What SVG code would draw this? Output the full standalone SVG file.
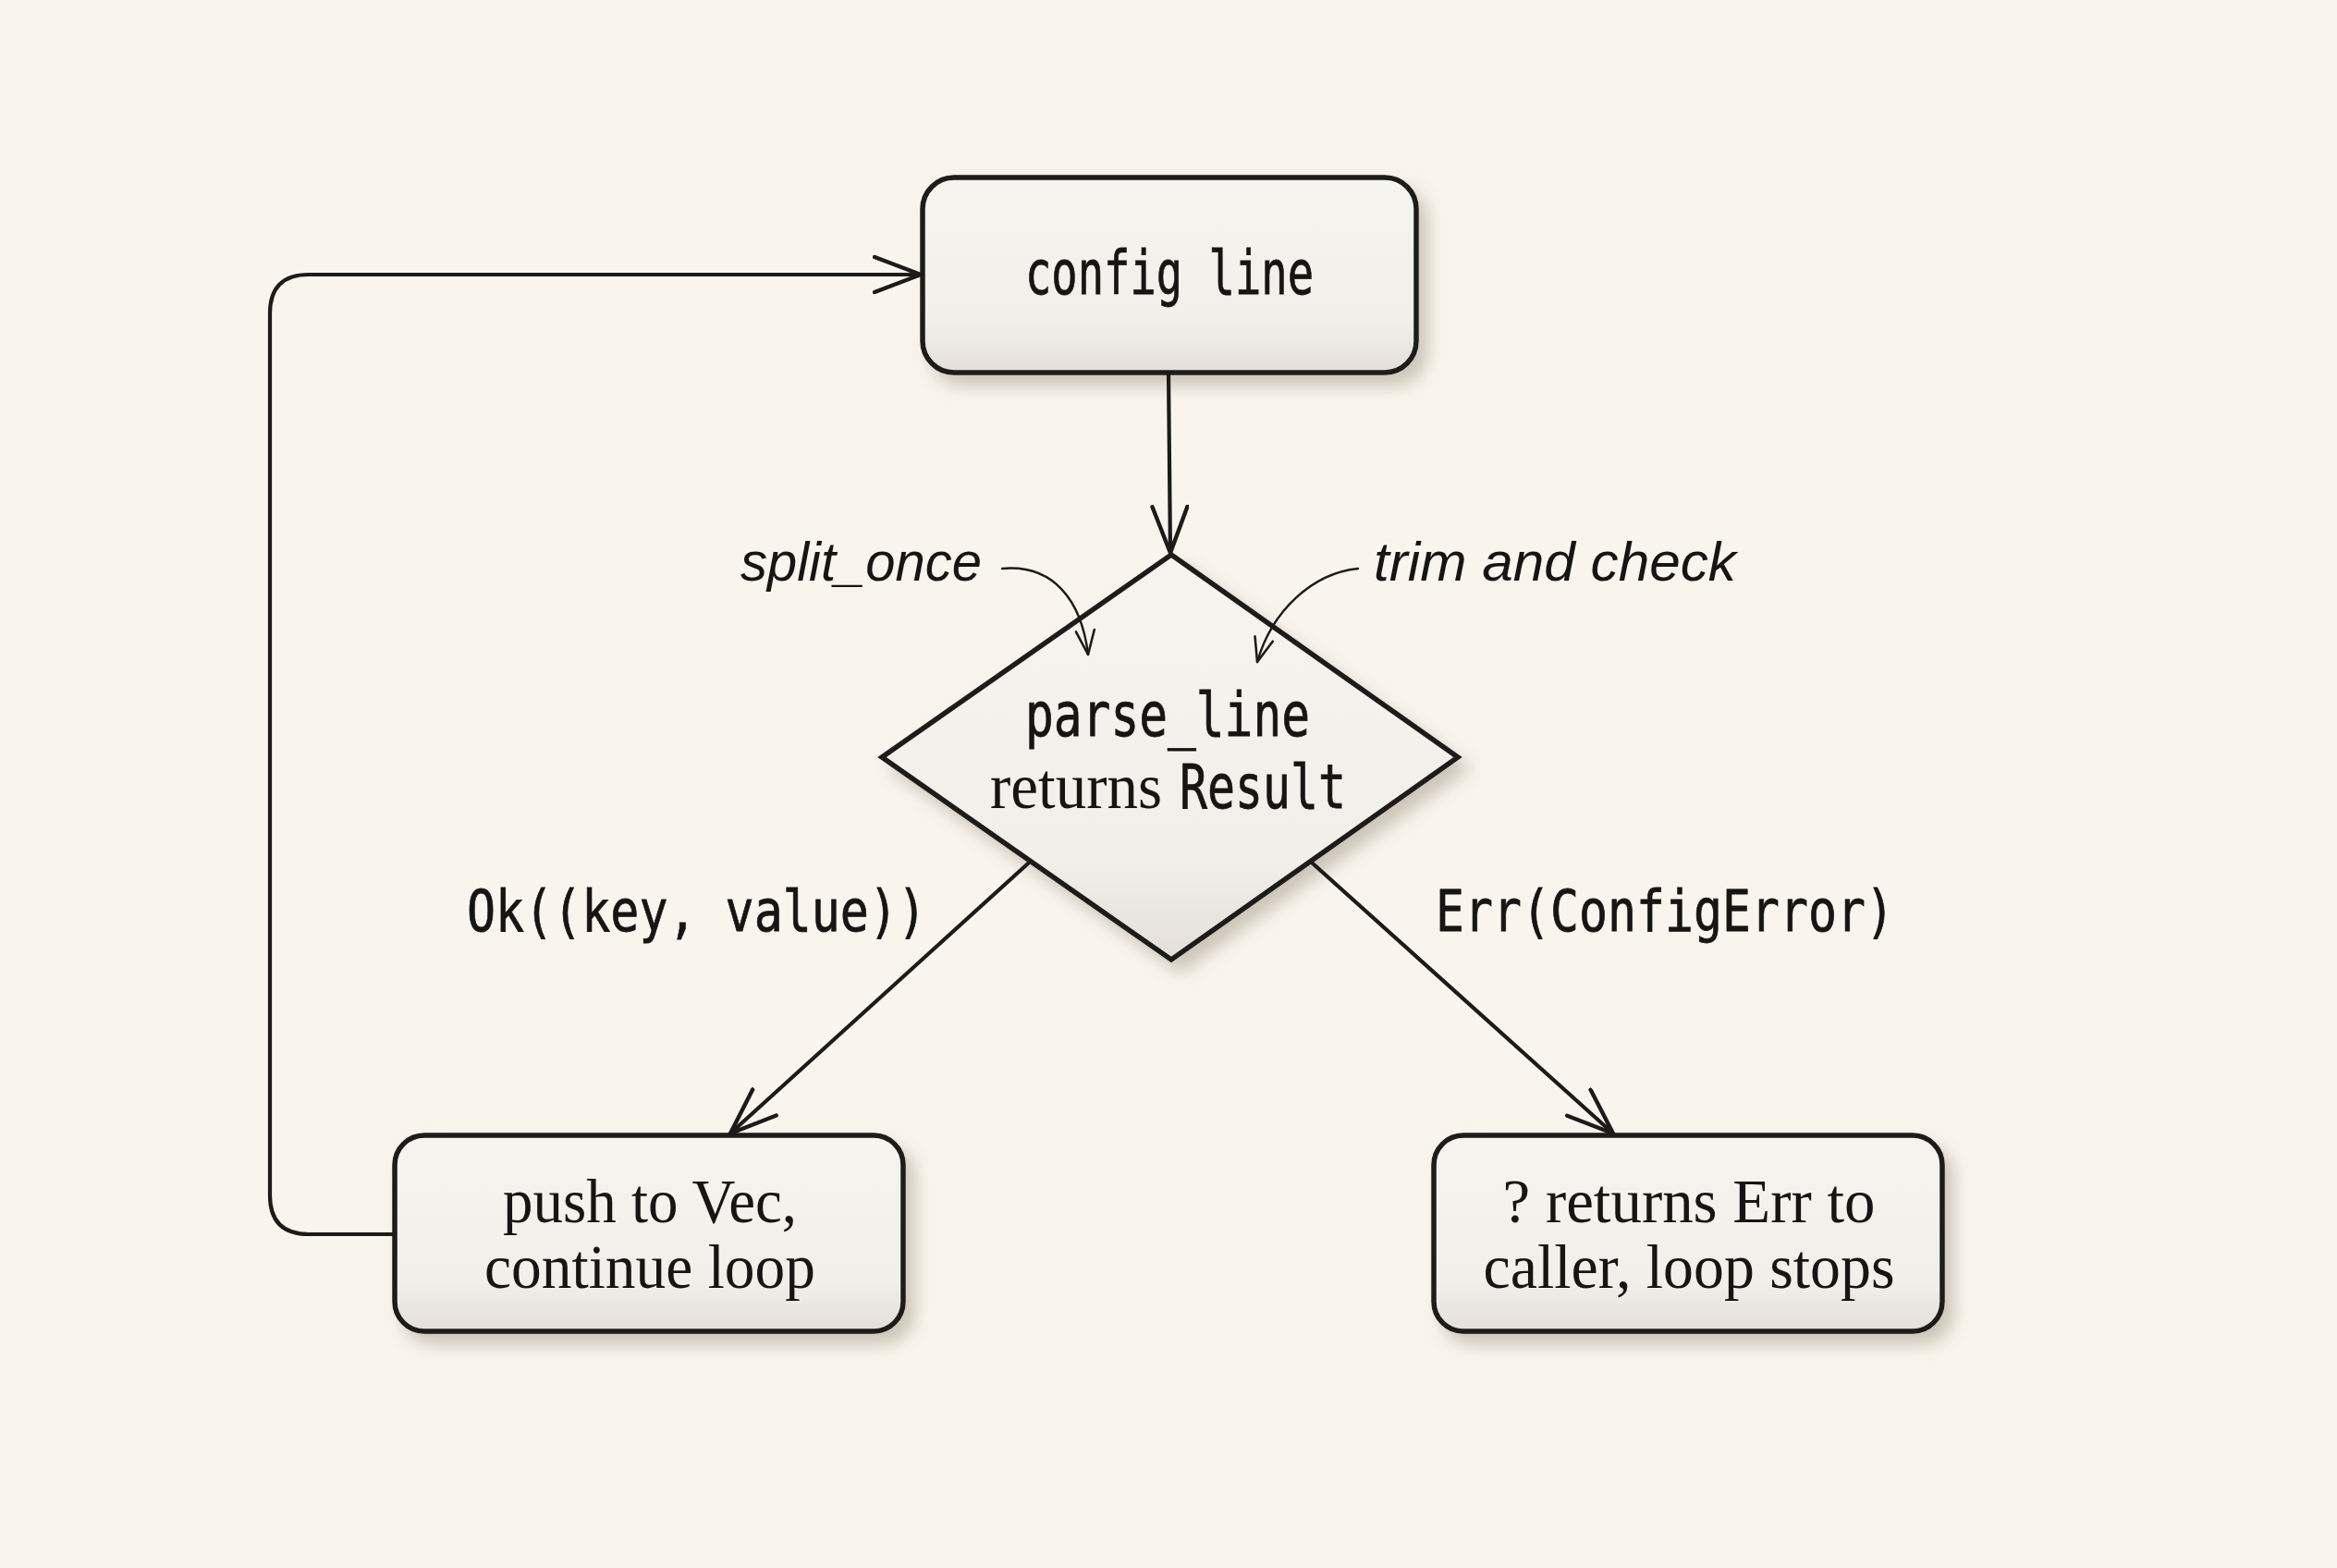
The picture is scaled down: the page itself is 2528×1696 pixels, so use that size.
<svg xmlns="http://www.w3.org/2000/svg" width="2528" height="1696" viewBox="0 0 2528 1696">
<style>
.box{fill:url(#boxfill);stroke:#1c1b1a;stroke-width:5.5;filter:url(#shadow)}
.mono{font-family:"DejaVu Sans Mono","Liberation Mono",monospace;fill:#161514;stroke:#161514;stroke-width:0.8}
.serif{font-family:"Liberation Serif","DejaVu Serif",serif;fill:#161514}
.hand{font-family:"Liberation Sans","DejaVu Sans",sans-serif;font-style:italic;fill:#161514}
.edge{fill:none;stroke:#1c1b1a;stroke-width:4.2;stroke-linecap:round;stroke-linejoin:round}
.thin{fill:none;stroke:#1c1b1a;stroke-width:2.4;stroke-linecap:round}
</style>
<defs>
<linearGradient id="boxfill" x1="0" y1="0" x2="0" y2="1">
<stop offset="0" stop-color="#f6f4ef"/>
<stop offset="0.75" stop-color="#f1efea"/>
<stop offset="1" stop-color="#e3dfd8"/>
</linearGradient>
<filter id="shadow" x="-10%" y="-10%" width="125%" height="130%">
<feDropShadow dx="10" dy="12" stdDeviation="9" flood-color="#7d6a55" flood-opacity="0.35"/>
</filter>
<marker id="arr" viewBox="0 0 54 42" refX="52" refY="21" markerWidth="54" markerHeight="42" markerUnits="userSpaceOnUse" orient="auto">
<path d="M2,2 L52,21 L2,40" fill="none" stroke="#1c1b1a" stroke-width="4.4" stroke-linecap="round" stroke-linejoin="round"/>
</marker>
<marker id="arrs" viewBox="0 0 30 24" refX="28" refY="12" markerWidth="30" markerHeight="24" markerUnits="userSpaceOnUse" orient="auto">
<path d="M2,2 L28,12 L2,22" fill="none" stroke="#1c1b1a" stroke-width="2.6" stroke-linecap="round" stroke-linejoin="round"/>
</marker>
</defs>
<rect width="2528" height="1696" fill="#f9f5ed"/>

<g id="config-line">
<rect class="box" x="998" y="192" width="534" height="211" rx="34"/>
<text class="mono" x="1265" y="318" font-size="66" text-anchor="middle" textLength="312" lengthAdjust="spacingAndGlyphs">config line</text>
</g>

<g id="parse-line">
<polygon class="box" points="1267,600 1577,819 1267,1038 954,819" stroke-linejoin="miter"/>
<text class="mono" x="1263" y="796" font-size="66" text-anchor="middle" textLength="308" lengthAdjust="spacingAndGlyphs">parse_line</text>
<text x="1071" y="874" font-size="66"><tspan class="serif" font-size="70" textLength="186" lengthAdjust="spacingAndGlyphs">returns</tspan><tspan class="mono" x="1276" textLength="180" lengthAdjust="spacingAndGlyphs">Result</tspan></text>
</g>

<g id="push-to-vec">
<rect class="box" x="427" y="1228" width="550" height="212" rx="32"/>
<text class="serif" x="703" y="1322" font-size="68" text-anchor="middle" textLength="318" lengthAdjust="spacingAndGlyphs">push to Vec,</text>
<text class="serif" x="703" y="1393" font-size="68" text-anchor="middle" textLength="358" lengthAdjust="spacingAndGlyphs">continue loop</text>
</g>

<g id="returns-err">
<rect class="box" x="1551" y="1228" width="550" height="212" rx="32"/>
<text class="serif" x="1827" y="1322" font-size="68" text-anchor="middle" textLength="403" lengthAdjust="spacingAndGlyphs">? returns Err to</text>
<text class="serif" x="1827" y="1393" font-size="68" text-anchor="middle" textLength="445" lengthAdjust="spacingAndGlyphs">caller, loop stops</text>
</g>

<g id="connectors">
<path class="edge" d="M1264,403 L1266,598" marker-end="url(#arr)"/>
<path class="edge" d="M1112,934 L790,1226" marker-end="url(#arr)"/>
<path class="edge" d="M1419,933 L1745,1226" marker-end="url(#arr)"/>
<path class="edge" d="M427,1335 L334,1335 Q292,1335 292,1293 L292,339 Q292,297 334,297 L996,297" marker-end="url(#arr)"/>
<path class="thin" d="M1084,615 C1140,610 1170,650 1177,708" marker-end="url(#arrs)"/>
<path class="thin" d="M1469,615 C1420,620 1376,660 1360,716" marker-end="url(#arrs)"/>
<text class="hand" x="801" y="628" font-size="60" textLength="261" lengthAdjust="spacingAndGlyphs">split_once</text>
<text class="hand" x="1486" y="628" font-size="60" textLength="392" lengthAdjust="spacingAndGlyphs">trim and check</text>
<text class="mono" x="505" y="1007" font-size="62" textLength="497" lengthAdjust="spacingAndGlyphs">Ok((key, value))</text>
<text class="mono" x="1553" y="1007" font-size="62" textLength="496" lengthAdjust="spacingAndGlyphs">Err(ConfigError)</text>
</g>
</svg>
